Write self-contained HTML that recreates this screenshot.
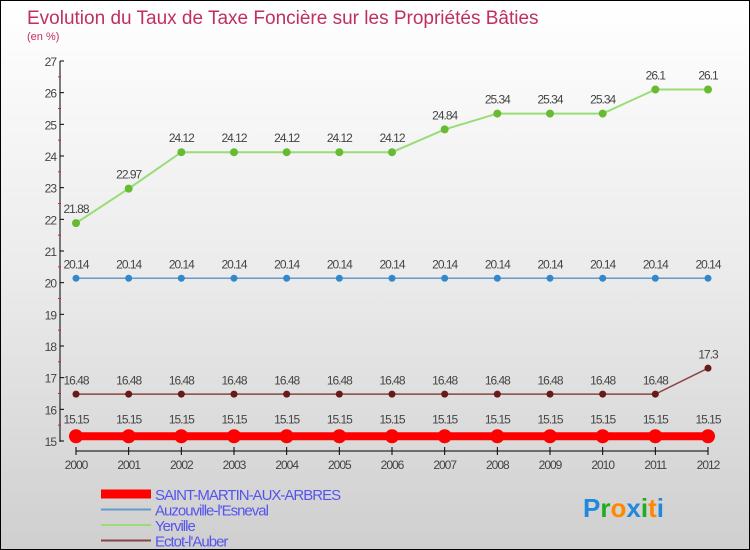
<!DOCTYPE html>
<html><head><meta charset="utf-8"><style>
body{margin:0;}
#c{width:748px;height:548px;border:1px solid #000;background:linear-gradient(#fff 0%,#ebebeb 50%,#cfcfcf 100%);position:relative;overflow:hidden;font-family:"Liberation Sans",sans-serif;}
</style></head><body>
<div id="c">
<svg id="s" width="748" height="548" xmlns="http://www.w3.org/2000/svg">
<text x="26" y="23" font-size="19" fill="#c0305e">Evolution du Taux de Taxe Foncière sur les Propriétés Bâties</text>
<text x="26" y="39" font-size="11" fill="#c0305e">(en %)</text>
</svg>
</div>
<script>
const years=[2000,2001,2002,2003,2004,2005,2006,2007,2008,2009,2010,2011,2012];
const yTicks=[15,16,17,18,19,20,21,22,23,24,25,26,27];
const saint=[15.15,15.15,15.15,15.15,15.15,15.15,15.15,15.15,15.15,15.15,15.15,15.15,15.15];
const auzou=[20.14,20.14,20.14,20.14,20.14,20.14,20.14,20.14,20.14,20.14,20.14,20.14,20.14];
const yerv=[21.88,22.97,24.12,24.12,24.12,24.12,24.12,24.84,25.34,25.34,25.34,26.1,26.1];
const ectot=[16.48,16.48,16.48,16.48,16.48,16.48,16.48,16.48,16.48,16.48,16.48,16.48,17.3];
const names=["SAINT-MARTIN-AUX-ARBRES","Auzouville-l'Esneval","Yerville","Ectot-l'Auber"];
const NS="http://www.w3.org/2000/svg",s=document.getElementById('s');
const X=i=>75+i*(632/(years.length-1));
const Y=v=>440-(v-15)*(380/12);
function el(t,a,p){const e=document.createElementNS(NS,t);for(const k in a)e.setAttribute(k,a[k]);(p||s).appendChild(e);return e;}
// axes
let ax=el('line',{x1:59,y1:60,x2:59,y2:441,stroke:'#000'});


let bx=el('line',{x1:75,y1:450,x2:707,y2:450,stroke:'#000'});


yTicks.forEach(v=>{
 el('line',{x1:59,y1:Y(v),x2:63,y2:Y(v),stroke:'#000'});
 if(v<27)el('line',{x1:57,y1:Y(v+0.5),x2:60,y2:Y(v+0.5),stroke:'#e02020'});
 let t=el('text',{x:55,y:Y(v)+5,'font-size':12,fill:'#444','text-anchor':'end','letter-spacing':'-1'});t.textContent=v;
 
 
});
years.forEach((y,i)=>{
 el('line',{x1:X(i),y1:446,x2:X(i),y2:454,stroke:'#000'});
 let t=el('text',{x:X(i),y:468,'font-size':12,fill:'#444','text-anchor':'middle','letter-spacing':'-1'});t.textContent=y;
 
 
});
function series(d,col,w,r,dot,nm,lblCol){
 const g=el('g',{});
 
 
 el('polyline',{points:d.map((v,i)=>X(i)+','+Y(v)).join(' '),fill:'none',stroke:col,'stroke-width':w},g);
 d.forEach((v,i)=>{
  const c=el('circle',{cx:X(i),cy:Y(v),r:r,fill:dot},g);
  
  
  const t=el('text',{x:X(i),y:Y(v)-(r+6),'font-size':12,fill:'#444','text-anchor':'middle','letter-spacing':'-1'},g);
  t.textContent=v;
  
  
 });
}
series(yerv,'#99dd77',2,4,'#66bb33','series-yerville');
series(auzou,'#6699cc',1.5,3.5,'#3388cc','series-auzouville');
series(ectot,'#884444',1.5,3.5,'#661a1a','series-ectot');
series(saint,'#ff0000',8,7,'#ff0000','series-saint-martin');
// legend
const lc=['#ff0000','#6699cc','#99dd77','#884444'],lw=[9,2,2,2];
names.forEach((n,i)=>{
 const y=493+i*15.5;
 const l=el('line',{x1:100,y1:y,x2:150,y2:y,stroke:lc[i],'stroke-width':lw[i]});
 
 
 const t=el('text',{x:154,y:y+6,'font-size':15,fill:'#5555ee','letter-spacing':'-1'});t.textContent=n;
 
 
});
// logo
const lg=el('text',{x:582,y:516,'font-size':26,'font-weight':'bold'});


[['P','#2288dd'],['r','#22aa22'],['o','#ff8800'],['x','#2288dd'],['i','#22aa22'],['t','#ff8800'],['i','#2288dd']].forEach(([c,f])=>{el('tspan',{fill:f},lg).textContent=c;});
</script>
</body></html>
